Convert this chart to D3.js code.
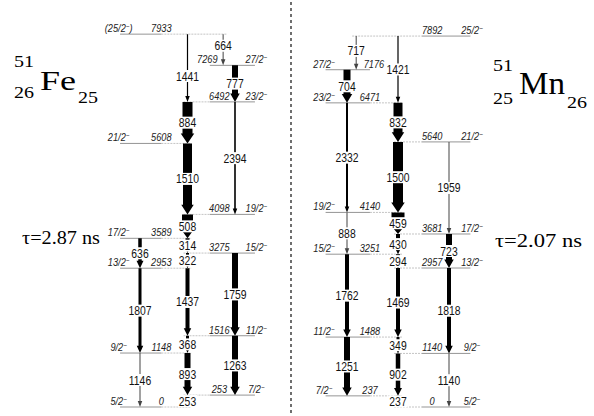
<!DOCTYPE html>
<html>
<head>
<meta charset="utf-8"/>
<style>
  body { margin: 0; background: #fff; }
  svg { display: block; }
  .serif { font-family: "Liberation Serif", "Times New Roman", Times, "DejaVu Serif", serif; }
  .sans { font-family: "Liberation Sans", Arial, Helvetica, sans-serif; }
</style>
</head>
<body>
<script src="https://d3js.org/d3.v7.min.js"></script>
<script>
var width = 594, height = 416;

// ---- 51Fe ----
var feLevelE    = [0, 253, 1148, 1516, 2953, 3275, 3589, 4098, 5608, 6492, 7269, 7933];
var feLevelSpin = ["5/2", "7/2", "9/2", "11/2", "13/2", "15/2", "17/2", "19/2", "21/2", "23/2", "27/2", "(25/2"];
var feLevelSide = ["L", "R", "L", "R", "L", "R", "L", "R", "L", "R", "R", "L"];

var feGamFrom  = [7933, 7933, 7269, 6492, 6492, 5608, 4098, 3589, 3589, 3275, 3275, 2953, 2953, 1516, 1516, 1148, 1148, 253];
var feGamTo    = [7269, 6492, 6492, 5608, 4098, 4098, 3589, 3275, 2953, 2953, 1516, 1516, 1148, 1148, 253, 253, 0, 0];
var feGamLabel = ["664", "1441", "777", "884", "2394", "1510", "508", "314", "636", "322", "1759", "1437", "1807", "368", "1263", "893", "1146", "253"];
var feGamLane  = [1.75, 1, 2, 1, 2, 1, 1, 1, 0, 1, 2, 1, 0, 1, 2, 1, 0, 1];
var feGamInt   = [10, 12, 60, 100, 16, 90, 110, 40, 35, 30, 60, 40, 30, 30, 60, 60, 10, 50];

// ---- 51Mn ----
var mnLevelE    = [0, 237, 1140, 1488, 2957, 3251, 3681, 4140, 5640, 6471, 7176, 7892];
var mnLevelSpin = ["5/2", "7/2", "9/2", "11/2", "13/2", "15/2", "17/2", "19/2", "21/2", "23/2", "27/2", "25/2"];
var mnLevelSide = ["R", "L", "R", "L", "R", "L", "R", "L", "R", "L", "L", "R"];

var mnGamFrom  = [7892, 7892, 7176, 6471, 6471, 5640, 5640, 4140, 4140, 3681, 3681, 3251, 3251, 2957, 2957, 1488, 1488, 1140, 1140, 237];
var mnGamTo    = [7176, 6471, 6471, 4140, 5640, 4140, 3681, 3681, 3251, 3251, 2957, 2957, 1488, 1488, 1140, 1140, 237, 237, 0, 0];
var mnGamLabel = ["717", "1421", "704", "2332", "832", "1500", "1959", "459", "888", "430", "723", "294", "1762", "1469", "1818", "349", "1251", "902", "1140", "237"];
var mnGamLane  = [0.18, 1, 0, 0, 1, 1, 2, 1, 0, 1, 2, 1, 0, 1, 2, 1, 0, 1, 2, 1];
var mnGamInt   = [10, 12, 70, 20, 90, 100, 10, 130, 10, 40, 60, 40, 40, 40, 40, 30, 60, 45, 10, 40];

var nuclei = [
  { sym: "Fe", A: "51", Z: "26", N: "25", tau: "\u03c4=2.87 ns",
    levelE: feLevelE, spin: feLevelSpin, side: feLevelSide,
    from: feGamFrom, to: feGamTo, label: feGamLabel, lane: feGamLane, inten: feGamInt },
  { sym: "Mn", A: "51", Z: "25", N: "26", tau: "\u03c4=2.07 ns",
    levelE: mnLevelE, spin: mnLevelSpin, side: mnLevelSide,
    from: mnGamFrom, to: mnGamTo, label: mnGamLabel, lane: mnGamLane, inten: mnGamInt }
];

var svg = d3.select("body").append("svg")
  .attr("width", width).attr("height", height)
  .attr("xmlns", "http://www.w3.org/2000/svg");

var y = d3.scaleLinear().domain([0, 8000]).range([407, 31]);
var wScale = d3.scaleLinear().domain([0, 100]).range([0, 10]);
var xScales = [
  d3.scaleLinear().domain([0, 2]).range([140, 235]),
  d3.scaleLinear().domain([0, 2]).range([347, 449])
];

// small hand nudges for crowded labels
var gamNudge = { "1441": 8, "664": -4, "717": -2 };
var energyNudge = { "7269": -12, "7176": 4 };

// divider
svg.append("line")
  .attr("x1", 291).attr("x2", 291).attr("y1", 2).attr("y2", 414)
  .attr("stroke", "#222").attr("stroke-width", 1.3)
  .attr("stroke-dasharray", "3,3");

nuclei.forEach(function(nuc, k) {
  var x = xScales[k];
  var gLev = svg.append("g"), gArr = svg.append("g"), gLab = svg.append("g").attr("class", "sans");

  // levels
  nuc.levelE.forEach(function(E, i) {
    var L = nuc.side[i] === "L";
    var s1 = L ? x(-0.42) : x(1.47), s2 = L ? x(0.45) : x(2.42);
    var lanes = [];
    nuc.from.forEach(function(f, j) {
      if (f === E || nuc.to[j] === E) lanes.push(x(nuc.lane[j]));
    });
    var lo = d3.min(lanes) - 4, hi = d3.max(lanes) + 4;
    if (L && hi > s2) {
      gLev.append("line").attr("x1", s2).attr("x2", hi).attr("y1", y(E)).attr("y2", y(E))
        .attr("stroke", "#c4c4c4").attr("stroke-width", 1).attr("stroke-dasharray", "2,1");
    }
    if (!L && lo < s1) {
      gLev.append("line").attr("x1", lo).attr("x2", s1).attr("y1", y(E)).attr("y2", y(E))
        .attr("stroke", "#c4c4c4").attr("stroke-width", 1).attr("stroke-dasharray", "2,1");
    }
    gLev.append("line").attr("x1", s1).attr("x2", s2).attr("y1", y(E)).attr("y2", y(E))
      .attr("stroke", "#959595").attr("stroke-width", 1);

    // level labels
    var ex = L ? x(0.45) : x(1.67);
    var sx = L ? x(-0.45) : x(2.45);
    ex += energyNudge[String(E)] || 0;
    gLab.append("text")
      .attr("transform", "translate(" + ex + "," + (y(E) - 2) + ") scale(0.88,1)")
      .attr("text-anchor", "middle")
      .style("font-size", "10.5px").style("font-style", "italic")
      .attr("fill", "#222").text(E);
    var st = gLab.append("text")
      .attr("transform", "translate(" + sx + "," + (y(E) - 2) + ") scale(0.88,1)")
      .attr("text-anchor", "middle")
      .style("font-size", "10.5px").style("font-style", "italic")
      .attr("fill", "#222");
    var sp = nuc.spin[i];
    st.append("tspan").text(sp);
    st.append("tspan").attr("dy", -3).style("font-size", "7px").text("\u2212");
    if (sp.charAt(0) === "(") st.append("tspan").attr("dy", 3).text(")");
  });

  // gammas
  nuc.from.forEach(function(f, j) {
    var cx = x(nuc.lane[j]);
    var y1 = y(f), y2 = y(nuc.to[j]);
    var w = Math.max(1, wScale(nuc.inten[j]));
    var thin = w <= 2;
    var hw = thin ? 4.5 : w + 3.5;
    var hl = thin ? 6 : Math.min(10, 6 + w * 0.4);
    var p = d3.path();
    p.moveTo(cx - w / 2, y1);
    p.lineTo(cx + w / 2, y1);
    p.lineTo(cx + w / 2, y2 - hl);
    p.lineTo(cx + hw / 2, y2 - hl);
    p.lineTo(cx, y2);
    p.lineTo(cx - hw / 2, y2 - hl);
    p.lineTo(cx - w / 2, y2 - hl);
    p.closePath();
    gArr.append("path").attr("d", p.toString())
      .attr("fill", w <= 1 ? "#444" : "#000");

    // label with white break
    var ly = (y1 + y2) / 2 + (gamNudge[nuc.label[j]] || 0);
    var lab = gArr.append("g").attr("transform", "translate(" + cx + "," + ly + ")");
    var bg = lab.append("rect").attr("fill", "#fff");
    var t = lab.append("text").attr("class", "sans")
      .attr("transform", "scale(0.83,1)")
      .attr("text-anchor", "middle").attr("dy", "0.36em")
      .style("font-size", "12.5px")
      .attr("fill", "#111").text(nuc.label[j]);
    var b = t.node().getBBox();
    bg.attr("x", b.x * 0.83 - 1).attr("width", b.width * 0.83 + 2)
      .attr("y", -6).attr("height", 12);
  });
});

// nuclide symbols
function nuclide(x0, base, size, symW, nuc) {
  var g = svg.append("g").attr("class", "serif").attr("fill", "#000");
  g.append("text").attr("x", x0).attr("y", base - 23).style("font-size", "17px")
    .attr("textLength", 20).attr("lengthAdjust", "spacingAndGlyphs").text(nuc.A);
  g.append("text").attr("x", x0).attr("y", base + 7 + (size - 27) * 0.7).style("font-size", "17px")
    .attr("textLength", 20).attr("lengthAdjust", "spacingAndGlyphs").text(nuc.Z);
  g.append("text").attr("x", x0 + 26).attr("y", base).style("font-size", size + "px")
    .attr("textLength", symW).attr("lengthAdjust", "spacingAndGlyphs").text(nuc.sym);
  g.append("text").attr("x", x0 + 28 + symW).attr("y", base + 13 + (size - 27) * 0.3).style("font-size", "17px")
    .attr("textLength", 20).attr("lengthAdjust", "spacingAndGlyphs").text(nuc.N);
}
nuclide(14, 90, 28, 36, nuclei[0]);
nuclide(493, 94, 31, 46, nuclei[1]);

svg.append("text").attr("class", "serif").attr("x", 22).attr("y", 244)
  .style("font-size", "18px")
  .attr("textLength", 78).attr("lengthAdjust", "spacingAndGlyphs").text(nuclei[0].tau);
svg.append("text").attr("class", "serif").attr("x", 495).attr("y", 247)
  .style("font-size", "18px")
  .attr("textLength", 87).attr("lengthAdjust", "spacingAndGlyphs").text(nuclei[1].tau);
</script>
</body>
</html>
